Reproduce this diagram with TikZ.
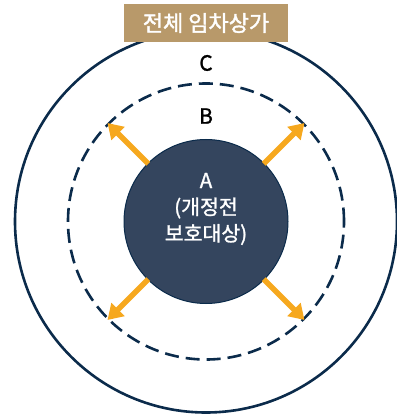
\documentclass[tikz,border=0pt]{standalone}
\usepackage{fontspec}
\setmainfont{Noto Sans CJK KR}
\newfontfamily\krsemi[FakeBold=1.2]{Noto Sans CJK KR}
\newfontfamily\krbold[FakeBold=1.8]{Noto Sans CJK KR}
\usetikzlibrary{arrows.meta}
\definecolor{navy}{HTML}{0B2B4B}
\definecolor{fillnavy}{HTML}{34455E}
\definecolor{tanbox}{HTML}{B8996A}
\definecolor{orng}{HTML}{F6A81E}
\tikzset{
  ring/.style={circle, draw=navy, line width=2.6pt, inner sep=0pt},
  outarrow/.style={draw=orng, line width=5.5pt, -{Triangle[length=15pt,width=18pt]}, shorten <=-1pt},
  letter/.style={font=\krsemi\fontsize{21}{25}\selectfont, text=black, inner sep=0pt},
}
\begin{document}
\begin{tikzpicture}[x=1pt,y=-1pt]
\useasboundingbox (0,0) rectangle (396,414);
\node[ring, minimum size=382pt] (C) at (206,221.5) {};
\node[ring, dash pattern=on 14pt off 7pt, minimum size=276pt] (B) at (206,221.5) {};
\node[circle, fill=fillnavy, draw=navy, line width=1pt, minimum size=164pt, inner sep=0pt] (A) at (206,221.5) {};
\foreach \a in {45,135,225,315} {
  \draw[outarrow] (A.\a) -- (B.\a);
}
\node[text=white, align=center, font=\krsemi\fontsize{20.5}{26.5}\selectfont, inner sep=0pt] (Atext) at (206,209) {A\\(개정전\\보호대상)};
\node[letter] (Clabel) at (206,63) {C};
\node[letter] (Blabel) at (206,116) {B};
\node[fill=tanbox, text=white, minimum width=164pt, minimum height=38pt, inner sep=0pt, font=\krbold\fontsize{22}{24}\selectfont] (title) at (206,23) {전체 임차상가};
\end{tikzpicture}
\end{document}
